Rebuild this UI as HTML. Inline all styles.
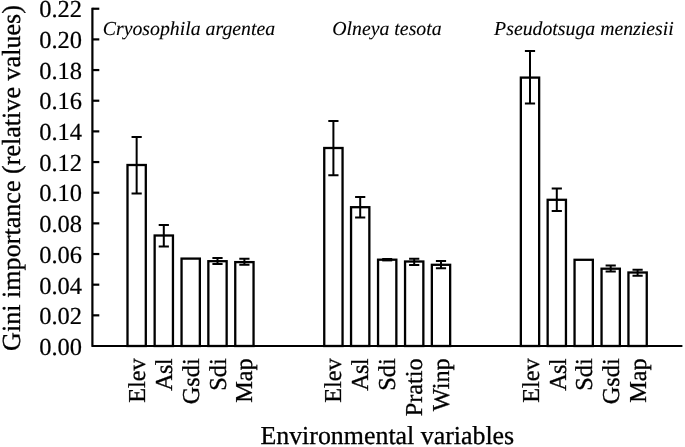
<!DOCTYPE html>
<html><head><meta charset="utf-8"><title>Gini importance</title>
<style>
html,body{margin:0;padding:0;background:#fff;}
svg{display:block;}
text{font-family:"Liberation Serif","Times New Roman",serif;fill:#000;stroke:#000;stroke-width:0.3px;text-rendering:geometricPrecision;}
.ax{stroke:#000;stroke-width:2.2;fill:none;}
.bar{stroke:#000;stroke-width:2.3;fill:#fff;}
.err{stroke:#000;stroke-width:2;fill:none;}
.t24{font-size:24.3px;}
.t24b{font-size:24.5px;stroke-width:0.2px;}
.t26{font-size:26.12px;}
.t26b{font-size:25.9px;}
.it{font-size:19.8px;font-style:italic;stroke-width:0.1px;}
</style></head><body>
<svg width="685" height="447" viewBox="0 0 685 447">
<rect width="685" height="447" fill="#fff"/>
<rect class="bar" x="127.50" y="165.00" width="18.3" height="181.00"/>
<path class="err" d="M136.65 137 V193.6 M131.55 137 H141.75 M131.55 193.6 H141.75"/>
<text class="t24" text-anchor="end" transform="translate(144.65 358.3) rotate(-90)">Elev</text>
<rect class="bar" x="154.65" y="235.50" width="18.3" height="110.50"/>
<path class="err" d="M163.80 225 V246.6 M158.70 225 H168.90 M158.70 246.6 H168.90"/>
<text class="t24" text-anchor="end" transform="translate(171.80 358.6) rotate(-90)" dx="0 -0.9 -0.8">Asl</text>
<rect class="bar" x="181.55" y="258.60" width="18.3" height="87.40"/>
<text class="t24" text-anchor="end" transform="translate(198.70 358.3) rotate(-90)">Gsdi</text>
<rect class="bar" x="208.35" y="261.20" width="18.3" height="84.80"/>
<path class="err" d="M217.50 258.09999999999997 V263.90000000000003 M212.40 258.09999999999997 H222.60 M212.40 263.90000000000003 H222.60"/>
<text class="t24" text-anchor="end" transform="translate(225.50 358.3) rotate(-90)">Sdi</text>
<rect class="bar" x="235.25" y="262.10" width="18.3" height="83.90"/>
<path class="err" d="M244.40 258.7 V264.7 M239.30 258.7 H249.50 M239.30 264.7 H249.50"/>
<text class="t24" text-anchor="end" transform="translate(252.40 358.3) rotate(-90)">Map</text>
<rect class="bar" x="324.25" y="148.00" width="18.3" height="198.00"/>
<path class="err" d="M333.40 121 V175.2 M328.30 121 H338.50 M328.30 175.2 H338.50"/>
<text class="t24" text-anchor="end" transform="translate(341.40 358.3) rotate(-90)">Elev</text>
<rect class="bar" x="351.05" y="207.20" width="18.3" height="138.80"/>
<path class="err" d="M360.20 197 V217.4 M355.10 197 H365.30 M355.10 217.4 H365.30"/>
<text class="t24" text-anchor="end" transform="translate(368.20 358.6) rotate(-90)" dx="0 -0.9 -0.8">Asl</text>
<rect class="bar" x="378.05" y="259.70" width="18.3" height="86.30"/>
<line class="err" style="stroke-width:3.4" x1="382.20" x2="392.20" y1="259.70" y2="259.70"/>
<text class="t24" text-anchor="end" transform="translate(395.20 358.3) rotate(-90)">Sdi</text>
<rect class="bar" x="405.05" y="261.50" width="18.3" height="84.50"/>
<path class="err" d="M414.20 258.7 V264.90000000000003 M409.10 258.7 H419.30 M409.10 264.90000000000003 H419.30"/>
<text class="t24" text-anchor="end" transform="translate(422.20 358.3) rotate(-90)">Pratio</text>
<rect class="bar" x="431.85" y="264.80" width="18.3" height="81.20"/>
<path class="err" d="M441.00 261.09999999999997 V268.3 M435.90 261.09999999999997 H446.10 M435.90 268.3 H446.10"/>
<text class="t24" text-anchor="end" transform="translate(449.00 358.3) rotate(-90)">Winp</text>
<rect class="bar" x="520.85" y="77.60" width="18.3" height="268.40"/>
<path class="err" d="M530.00 51 V103.6 M524.90 51 H535.10 M524.90 103.6 H535.10"/>
<text class="t24" text-anchor="end" transform="translate(538.70 358.3) rotate(-90)">Elev</text>
<rect class="bar" x="547.65" y="199.80" width="18.3" height="146.20"/>
<path class="err" d="M556.80 188.4 V211 M551.70 188.4 H561.90 M551.70 211 H561.90"/>
<text class="t24" text-anchor="end" transform="translate(565.50 358.6) rotate(-90)" dx="0 -0.9 -0.8">Asl</text>
<rect class="bar" x="574.55" y="259.80" width="18.3" height="86.20"/>
<text class="t24" text-anchor="end" transform="translate(592.40 358.3) rotate(-90)">Sdi</text>
<rect class="bar" x="601.55" y="268.70" width="18.3" height="77.30"/>
<path class="err" d="M610.70 265.5 V271.5 M605.60 265.5 H615.80 M605.60 271.5 H615.80"/>
<text class="t24" text-anchor="end" transform="translate(619.40 358.3) rotate(-90)">Gsdi</text>
<rect class="bar" x="628.45" y="272.50" width="18.3" height="73.50"/>
<path class="err" d="M637.60 269.7 V275.7 M632.50 269.7 H642.70 M632.50 275.7 H642.70"/>
<text class="t24" text-anchor="end" transform="translate(646.30 358.3) rotate(-90)">Map</text>
<path class="ax" d="M92.4 7.7 V346.0 M91.4 346.0 H682.4"/>
<text class="t24b" text-anchor="end" x="82" y="355.07">0.00</text>
<line class="ax" x1="92.4" x2="99.3" y1="315.34" y2="315.34"/>
<text class="t24b" text-anchor="end" x="82" y="324.34">0.02</text>
<line class="ax" x1="92.4" x2="99.3" y1="284.68" y2="284.68"/>
<text class="t24b" text-anchor="end" x="82" y="293.61">0.04</text>
<line class="ax" x1="92.4" x2="99.3" y1="254.02" y2="254.02"/>
<text class="t24b" text-anchor="end" x="82" y="262.88">0.06</text>
<line class="ax" x1="92.4" x2="99.3" y1="223.36" y2="223.36"/>
<text class="t24b" text-anchor="end" x="82" y="232.15">0.08</text>
<line class="ax" x1="92.4" x2="99.3" y1="192.70" y2="192.70"/>
<text class="t24b" text-anchor="end" x="82" y="201.42">0.10</text>
<line class="ax" x1="92.4" x2="99.3" y1="162.04" y2="162.04"/>
<text class="t24b" text-anchor="end" x="82" y="170.69">0.12</text>
<line class="ax" x1="92.4" x2="99.3" y1="131.38" y2="131.38"/>
<text class="t24b" text-anchor="end" x="82" y="139.96">0.14</text>
<line class="ax" x1="92.4" x2="99.3" y1="100.72" y2="100.72"/>
<text class="t24b" text-anchor="end" x="82" y="109.23">0.16</text>
<line class="ax" x1="92.4" x2="99.3" y1="70.06" y2="70.06"/>
<text class="t24b" text-anchor="end" x="82" y="78.50">0.18</text>
<line class="ax" x1="92.4" x2="99.3" y1="39.40" y2="39.40"/>
<text class="t24b" text-anchor="end" x="82" y="47.77">0.20</text>
<line class="ax" x1="92.4" x2="99.3" y1="8.74" y2="8.74"/>
<text class="t24b" text-anchor="end" x="82" y="17.04">0.22</text>
<text class="t26" transform="translate(20.1 350.9) rotate(-90)">Gini importance (relative values)</text>
<text class="t26b" x="260.4" y="444.2">Environmental variables</text>
<text class="it" x="102.8" y="34.6">Cryosophila argentea</text>
<text class="it" x="332.3" y="34.6">Olneya tesota</text>
<text class="it" x="494.1" y="34.6">Pseudotsuga menziesii</text>
</svg></body></html>
